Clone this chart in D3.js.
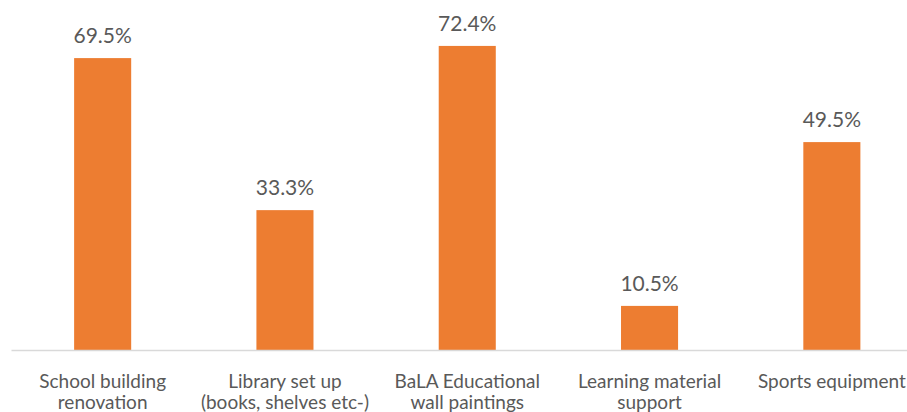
<!DOCTYPE html>
<html>
<head>
<meta charset="utf-8">
<script src="https://cdn.jsdelivr.net/npm/d3@7"></script>
<style>
  html, body { margin: 0; padding: 0; background: #fff; }
  svg { display: block; }
  text { font-family: Lato, "Open Sans", sans-serif; fill: #595959; }
</style>
</head>
<body>
<div id="chart"></div>
<script>
// ── Data ────────────────────────────────────────────────────────────────
const categories = [
  ['School building', 'renovation'],
  ['Library set up', '(books, shelves etc-)'],
  ['BaLA Educational', 'wall paintings'],
  ['Learning material', 'support'],
  ['Sports equipment'],
];
const values = [69.5, 33.3, 72.4, 10.5, 49.5];

const W = 907, H = 412;
const BASE_Y = 350;

const svg = d3.select('#chart').append('svg')
  .attr('width', W)
  .attr('height', H);

const x = d3.scaleBand()
  .domain(d3.range(values.length))
  .range([11.5, 923])
  .paddingInner(0.687)
  .paddingOuter(0.3435);

const y = d3.scaleLinear()
  .domain([0, 80])
  .range([BASE_Y, BASE_Y - 336]);

// bars
svg.selectAll('rect.bar')
  .data(values)
  .join('rect')
  .attr('class', 'bar')
  .attr('x', (d, i) => x(i))
  .attr('width', x.bandwidth())
  .attr('y', d => y(d))
  .attr('height', d => y(0) - y(d))
  .attr('fill', '#ED7D31');

// axis line
svg.append('line')
  .attr('x1', x.range()[0]).attr('x2', x.range()[1])
  .attr('y1', BASE_Y + 0.5).attr('y2', BASE_Y + 0.5)
  .attr('stroke', '#D9D9D9')
  .attr('stroke-width', 1.3);

// value labels
svg.selectAll('text.val')
  .data(values)
  .join('text')
  .attr('class', 'val')
  .attr('x', (d, i) => x(i) + x.bandwidth() / 2)
  .attr('y', d => y(d) - 15)
  .attr('text-anchor', 'middle')
  .attr('font-size', 21)
  .text(d => d.toFixed(1) + '%');

// category labels
const cat = svg.selectAll('text.cat')
  .data(categories)
  .join('text')
  .attr('class', 'cat')
  .attr('text-anchor', 'middle')
  .attr('font-size', 19)
  .attr('transform', (d, i) => `translate(${x(i) + x.bandwidth() / 2},388)`);

cat.selectAll('tspan')
  .data(d => d)
  .join('tspan')
  .attr('x', 0)
  .attr('dy', (d, j) => j === 0 ? 0 : 21)
  .text(d => d);
</script>
</body>
</html>
